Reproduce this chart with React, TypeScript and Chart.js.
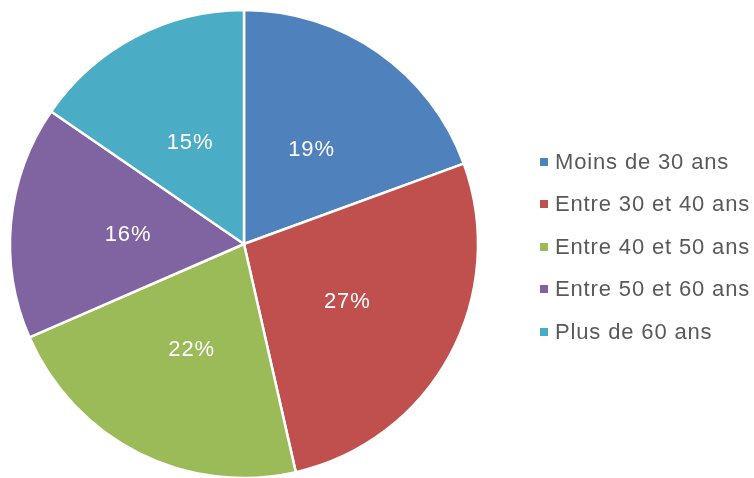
import React, { useEffect, useRef } from "react";
import { Chart, registerables } from "chart.js";

Chart.register(...registerables);

const categories = ["Moins de 30 ans", "Entre 30 et 40 ans", "Entre 40 et 50 ans", "Entre 50 et 60 ans", "Plus de 60 ans"];
const values = [19.4, 27.0, 22.0, 16.1, 15.4];
const colors = ["#4F81BD", "#C0504D", "#9BBB59", "#8064A2", "#4BACC6"];

const FONT = "'Liberation Sans', Arial, sans-serif";

const labelPlugin = {
  id: "sliceLabels",
  afterDatasetsDraw(chart: any) {
    const ctx = chart.ctx;
    const meta = chart.getDatasetMeta(0);
    const total = values.reduce((a, b) => a + b, 0);
    ctx.save();
    ctx.font = `22px ${FONT}`;
    (ctx as any).letterSpacing = "0.9px";
    ctx.fillStyle = "#FFFFFF";
    ctx.textAlign = "center";
    ctx.textBaseline = "middle";
    meta.data.forEach((arc: any, i: number) => {
      const { x, y, startAngle, endAngle, outerRadius } = arc.getProps(["x", "y", "startAngle", "endAngle", "outerRadius"], true);
      const mid = (startAngle + endAngle) / 2;
      const r = outerRadius * 0.5;
      const pct = Math.round((values[i] / total) * 100);
      ctx.fillText(pct + "%", x + Math.cos(mid) * r + 0.5, y + Math.sin(mid) * r + 2);
    });
    ctx.restore();
  },
};

const legendPlugin = {
  id: "customLegend",
  afterDraw(chart: any) {
    const ctx = chart.ctx;
    ctx.save();
    ctx.font = `22px ${FONT}`;
    (ctx as any).letterSpacing = "0.85px";
    ctx.textBaseline = "alphabetic";
    ctx.textAlign = "left";
    categories.forEach((c, i) => {
      const baseline = 168.5 + i * 42.5;
      ctx.fillStyle = colors[i];
      ctx.fillRect(540, Math.round(baseline - 11), 8, 8);
      ctx.fillStyle = "#595959";
      ctx.fillText(c, 555, baseline);
    });
    ctx.restore();
  },
};

export default function App() {
  const ref = useRef<HTMLCanvasElement>(null);
  useEffect(() => {
    document.body.style.margin = "0";
    const chart = new Chart(ref.current!, {
      type: "pie",
      data: {
        labels: categories,
        datasets: [
          {
            data: values,
            backgroundColor: colors,
            borderColor: "#FFFFFF",
            borderWidth: 2.5,
          },
        ],
      },
      options: {
        animation: false,
        responsive: false,
        radius: 234,
        layout: { padding: { top: 10, bottom: 0, left: 9, right: 275 } },
        plugins: {
          legend: { display: false },
          tooltip: { enabled: false },
        },
      } as any,
      plugins: [labelPlugin, legendPlugin],
    });
    return () => chart.destroy();
  }, []);
  return (
    <div style={{ position: "absolute", left: 0, top: 0, width: 754, height: 478, background: "#fff" }}>
      <canvas ref={ref} width={754} height={478} style={{ width: 754, height: 478, display: "block" }} />
    </div>
  );
}
